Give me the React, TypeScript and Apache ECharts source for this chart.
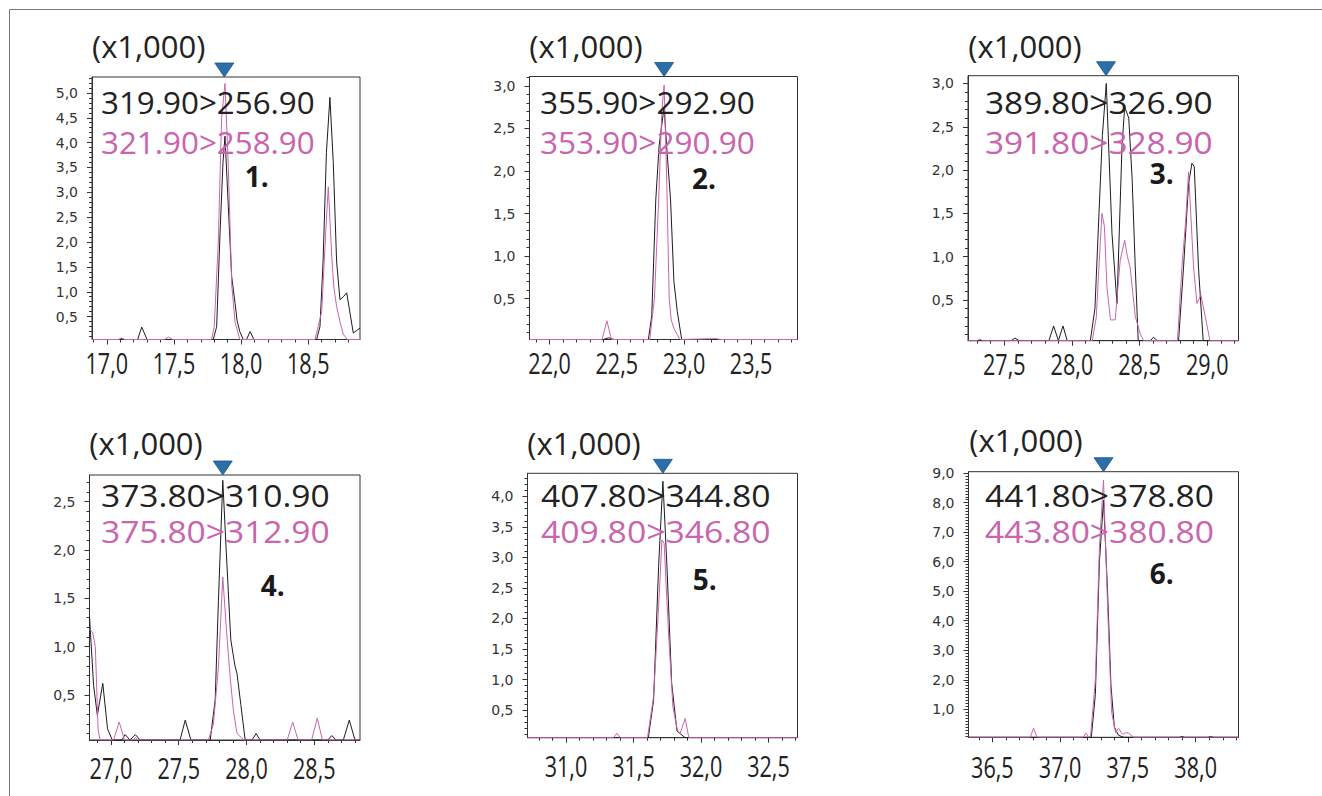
import React, { useEffect, useRef } from "react";
import * as echarts from "echarts";

// ---------- data ----------
const xRanges: number[][] = [
  [16.89, 18.885],
  [21.85, 23.845],
  [27.232, 29.231],
  [26.842, 28.837],
  [30.715, 32.715],
  [36.324, 38.316],
];
const yRanges: number[][] = [
  [0.04, 5.32],
  [0.02, 3.11],
  [0.03, 3.09],
  [0.034, 2.775],
  [0.046, 4.38],
  [0.05, 9.05],
];
const xTickValues: number[][] = [
  [17.0, 17.5, 18.0, 18.5],
  [22.0, 22.5, 23.0, 23.5],
  [27.5, 28.0, 28.5, 29.0],
  [27.0, 27.5, 28.0, 28.5],
  [31.0, 31.5, 32.0, 32.5],
  [36.5, 37.0, 37.5, 38.0],
];
const yTickValues: number[][] = [
  [0.5, 1.0, 1.5, 2.0, 2.5, 3.0, 3.5, 4.0, 4.5, 5.0],
  [0.5, 1.0, 1.5, 2.0, 2.5, 3.0],
  [0.5, 1.0, 1.5, 2.0, 2.5, 3.0],
  [0.5, 1.0, 1.5, 2.0, 2.5],
  [0.5, 1.0, 1.5, 2.0, 2.5, 3.0, 3.5, 4.0],
  [1.0, 2.0, 3.0, 4.0, 5.0, 6.0, 7.0, 8.0, 9.0],
];
const yMinorStep = [0.1, 0.1, 0.1, 0.1, 0.1, 0.1];
const retentionTimes = [17.875, 22.852, 28.252, 27.825, 31.718, 37.32];
const scaleLabel = "(x1,000)";
const transitionsBlack = ["319.90>256.90", "355.90>292.90", "389.80>326.90", "373.80>310.90", "407.80>344.80", "441.80>378.80"];
const transitionsPink = ["321.90>258.90", "353.90>290.90", "391.80>328.90", "375.80>312.90", "409.80>346.80", "443.80>380.80"];
const compoundLabels = ["1.", "2.", "3.", "4.", "5.", "6."];

// chromatogram traces: [retention time (min), intensity (x1,000)]
const p1Black = [[16.89,0.04],[17.09,0.04],[17.11,0.06],[17.13,0.04],[17.23,0.04],[17.26,0.29],[17.30,0.04],[17.793,0.04],[17.818,0.3],[17.843,2.17],[17.865,3.6],[17.88,4.13],[17.905,2.7],[17.93,1.3],[17.955,0.77],[17.97,0.42],[17.99,0.2],[18.016,0.04],[18.04,0.04],[18.067,0.2],[18.095,0.04],[18.562,0.04],[18.587,0.3],[18.61,1.6],[18.635,3.8],[18.661,4.91],[18.686,3.6],[18.711,1.6],[18.736,0.84],[18.761,0.9],[18.786,0.98],[18.835,0.17],[18.885,0.27]];
const p1Pink = [[16.89,0.04],[17.09,0.04],[17.11,0.07],[17.13,0.04],[17.43,0.04],[17.46,0.09],[17.49,0.04],[17.78,0.04],[17.80,0.3],[17.83,2.0],[17.855,4.5],[17.88,5.19],[17.905,3.5],[17.93,1.14],[17.955,0.39],[17.99,0.04],[18.55,0.04],[18.60,0.6],[18.63,2.2],[18.649,3.11],[18.675,1.7],[18.69,1.1],[18.711,0.7],[18.74,0.35],[18.76,0.15],[18.79,0.04],[18.885,0.04]];
const p2Black = [[21.85,0.02],[22.40,0.02],[22.44,0.04],[22.48,0.02],[22.735,0.02],[22.76,0.3],[22.79,1.66],[22.815,2.3],[22.852,2.75],[22.875,2.2],[22.90,1.66],[22.925,0.7],[22.95,0.35],[22.983,0.02],[23.845,0.02]];
const p2Pink = [[21.85,0.02],[22.39,0.02],[22.426,0.24],[22.46,0.02],[22.745,0.02],[22.78,0.5],[22.81,1.6],[22.835,2.7],[22.852,3.01],[22.87,2.0],[22.89,0.5],[22.905,0.25],[22.925,0.15],[22.97,0.02],[23.24,0.03],[23.27,0.02],[23.845,0.02]];
const p3Black = [[27.232,0.03],[27.55,0.03],[27.58,0.06],[27.61,0.03],[27.83,0.03],[27.865,0.2],[27.90,0.03],[27.934,0.2],[27.965,0.03],[28.136,0.03],[28.17,0.4],[28.20,1.5],[28.225,2.4],[28.254,3.0],[28.296,1.27],[28.333,0.46],[28.37,2.27],[28.39,2.73],[28.42,2.6],[28.445,1.9],[28.468,0.88],[28.49,0.03],[28.58,0.03],[28.603,0.07],[28.63,0.03],[28.788,0.03],[28.825,0.88],[28.862,1.84],[28.887,2.08],[28.904,2.04],[28.935,0.88],[28.97,0.03],[29.231,0.03]];
const p3Pink = [[27.232,0.03],[27.30,0.03],[27.32,0.05],[27.34,0.03],[28.15,0.03],[28.18,0.3],[28.20,0.9],[28.222,1.5],[28.24,1.35],[28.259,0.64],[28.285,0.27],[28.32,0.27],[28.357,0.96],[28.39,1.19],[28.41,1.0],[28.43,0.88],[28.468,0.31],[28.505,0.11],[28.53,0.03],[28.78,0.03],[28.813,0.88],[28.84,1.4],[28.862,1.98],[28.899,0.88],[28.924,0.46],[28.953,0.56],[28.985,0.31],[29.02,0.03],[29.231,0.03]];
const p4Black = [[26.842,1.31],[26.872,0.6],[26.90,0.29],[26.94,0.62],[26.975,0.15],[27.01,0.034],[27.08,0.034],[27.105,0.09],[27.14,0.034],[27.18,0.09],[27.215,0.034],[27.51,0.034],[27.548,0.24],[27.59,0.034],[27.732,0.034],[27.769,0.45],[27.793,1.48],[27.825,2.72],[27.85,2.0],[27.884,1.07],[27.915,0.8],[27.93,0.72],[27.958,0.4],[27.99,0.034],[28.04,0.034],[28.071,0.1],[28.10,0.034],[28.60,0.034],[28.629,0.08],[28.66,0.034],[28.714,0.034],[28.758,0.24],[28.80,0.034],[28.837,0.034]];
const p4Pink = [[26.842,1.18],[26.865,1.15],[26.885,1.0],[26.905,0.15],[26.92,0.034],[27.02,0.034],[27.061,0.22],[27.10,0.034],[27.165,0.034],[27.18,0.06],[27.20,0.034],[27.719,0.034],[27.756,0.2],[27.793,0.79],[27.825,1.72],[27.85,1.21],[27.879,0.69],[27.903,0.34],[27.93,0.1],[27.98,0.034],[28.30,0.034],[28.341,0.22],[28.38,0.034],[28.48,0.034],[28.522,0.26],[28.56,0.034],[28.837,0.034]];
const p5Black = [[30.715,0.046],[31.61,0.046],[31.649,0.66],[31.686,2.85],[31.718,4.25],[31.748,2.85],[31.783,0.94],[31.822,0.16],[31.841,0.12],[31.883,0.046],[32.715,0.046]];
const p5Pink = [[30.715,0.046],[31.352,0.046],[31.377,0.12],[31.402,0.046],[31.604,0.046],[31.649,0.72],[31.686,2.18],[31.711,3.29],[31.727,3.23],[31.76,1.75],[31.792,0.55],[31.826,0.16],[31.846,0.12],[31.883,0.36],[31.91,0.046],[32.715,0.046]];
const p6Black = [[36.324,0.05],[37.23,0.05],[37.26,1.5],[37.29,6.0],[37.32,8.09],[37.35,5.0],[37.375,1.8],[37.40,0.4],[37.43,0.12],[37.47,0.05],[37.88,0.05],[37.90,0.08],[37.92,0.05],[38.09,0.05],[38.11,0.08],[38.13,0.05],[38.316,0.05]];
const p6Pink = [[36.324,0.05],[36.78,0.05],[36.804,0.36],[36.83,0.05],[37.17,0.05],[37.19,0.19],[37.21,0.05],[37.225,0.1],[37.26,2.0],[37.29,6.5],[37.32,8.77],[37.35,4.5],[37.38,0.9],[37.41,0.2],[37.43,0.36],[37.46,0.15],[37.48,0.2],[37.505,0.2],[37.54,0.05],[38.316,0.05]];

const blackTraces = [p1Black, p2Black, p3Black, p4Black, p5Black, p6Black];
const pinkTraces = [p1Pink, p2Pink, p3Pink, p4Pink, p5Pink, p6Pink];

// ---------- layout (pixels) ----------
const grids = [
  { left: 92, top: 77, width: 268, height: 262.5 },
  { left: 529.5, top: 76.5, width: 268, height: 263 },
  { left: 968, top: 75.7, width: 270.5, height: 265 },
  { left: 89.5, top: 475, width: 270.5, height: 265 },
  { left: 527.5, top: 473.3, width: 270, height: 264.4 },
  { left: 968.5, top: 471.7, width: 270, height: 265.6 },
];
const xLabelDrop = [23, 23, 23, 28, 28, 29];
const scalePos = [[92, 46], [529.3, 46], [968.3, 46], [89.3, 443], [527.3, 442.5], [969.3, 440]];
const transPos = [[101, 102, 141.7], [540, 102, 142], [985, 102, 142], [101, 494.7, 530.8], [541, 494.7, 530.5], [985, 494.7, 530.5]];
const transStretch = [1.012, 1.017, 1.078, 1.083, 1.087, 1.084];
const compoundPos = [[256.7, 176], [704, 178], [1161.7, 172.5], [272.8, 584.7], [704.7, 579], [1161.7, 573.3]];

const BLACK = "#1c1c1c";
const PINK = "#c964ad";
const AXIS = "#333333";

function stepTicks(min: number, max: number, step: number): number[] {
  const out: number[] = [];
  let k = Math.ceil(min / step - 1e-9);
  while (k * step <= max + 1e-9) {
    out.push(Math.round(k * step * 1000) / 1000);
    k++;
  }
  return out;
}
const fmt = (v: number) => v.toFixed(1).replace(".", ",");

export default function App() {
  const ref = useRef<HTMLDivElement>(null);
  useEffect(() => {
    document.body.style.margin = "0";
    if (!ref.current) return;
    const chart = echarts.init(ref.current, undefined, { renderer: "svg" });

    const xAxis: any[] = [];
    const yAxis: any[] = [];
    const series: any[] = [];
    const graphic: any[] = [];

    grids.forEach((g, i) => {
      const [xmin, xmax] = xRanges[i];
      const [ymin, ymax] = yRanges[i];
      xAxis.push({
        type: "value", gridIndex: i, min: xmin, max: xmax, position: "bottom",
        axisLine: { show: true, lineStyle: { color: AXIS, width: 1 } },
        axisTick: { show: true, length: 5, customValues: xTickValues[i], lineStyle: { color: AXIS } },
        axisLabel: { show: false },
        splitLine: { show: false },
      });
      xAxis.push({
        type: "value", gridIndex: i, min: xmin, max: xmax, position: "bottom", offset: 0,
        axisLine: { show: false },
        axisTick: { show: true, length: 3, customValues: stepTicks(xmin, xmax, 0.1), lineStyle: { color: AXIS } },
        axisLabel: { show: false },
        splitLine: { show: false },
      });
      yAxis.push({
        type: "value", gridIndex: i, min: ymin, max: ymax, position: "left",
        axisLine: { show: true, lineStyle: { color: AXIS, width: 1 } },
        axisTick: { show: true, length: 5, customValues: yTickValues[i], lineStyle: { color: AXIS } },
        axisLabel: {
          show: true, customValues: yTickValues[i], formatter: fmt, margin: 14,
          fontFamily: "DejaVu Sans", fontSize: 14, color: "#333",
        },
        splitLine: { show: false },
      });
      yAxis.push({
        type: "value", gridIndex: i, min: ymin, max: ymax, position: "left", offset: 0,
        axisLine: { show: false },
        axisTick: { show: true, length: 3, customValues: stepTicks(ymin, ymax, yMinorStep[i]), lineStyle: { color: AXIS } },
        axisLabel: { show: false },
        splitLine: { show: false },
      });
      series.push({
        type: "line", xAxisIndex: 2 * i, yAxisIndex: 2 * i, data: blackTraces[i],
        showSymbol: false, symbol: "none", lineStyle: { color: BLACK, width: 1 }, z: 2,
      });
      series.push({
        type: "line", xAxisIndex: 2 * i, yAxisIndex: 2 * i, data: pinkTraces[i],
        showSymbol: false, symbol: "none", lineStyle: { color: PINK, width: 1 }, z: 3,
      });
      series.push({
        type: "scatter", xAxisIndex: 2 * i, yAxisIndex: 2 * i, data: [[retentionTimes[i], ymax]],
        symbol: "triangle", symbolRotate: 180, symbolSize: [19, 14], symbolOffset: [0, -7],
        clip: false, z: 5, itemStyle: { color: "#2b6ea8", borderColor: "#1d5687", borderWidth: 0.8, opacity: 1 },
        silent: true,
      });

      graphic.push({
        type: "text", x: scalePos[i][0], y: scalePos[i][1],
        style: { text: scaleLabel, fontFamily: "Open Sans", fontSize: 31, lineHeight: 32, fill: "#222", textAlign: "left", textVerticalAlign: "middle" },
      });
      graphic.push({
        type: "text", x: transPos[i][0], y: transPos[i][1], z: 10, scaleX: transStretch[i],
        style: { text: transitionsBlack[i], fontFamily: "Open Sans", fontSize: 31, lineHeight: 31, fill: "#222", textAlign: "left", textVerticalAlign: "middle" },
      });
      graphic.push({
        type: "text", x: transPos[i][0], y: transPos[i][2], z: 10, scaleX: transStretch[i],
        style: { text: transitionsPink[i], fontFamily: "Open Sans", fontSize: 31, lineHeight: 31, fill: PINK, textAlign: "left", textVerticalAlign: "middle" },
      });
      graphic.push({
        type: "text", x: compoundPos[i][0], y: compoundPos[i][1], z: 10,
        style: { text: compoundLabels[i], fontFamily: "Open Sans", fontWeight: "bold", fontSize: 28, lineHeight: 26, fill: "#1a1a1a", textAlign: "center", textVerticalAlign: "middle" },
      });
    });

    graphic.push({ type: "line", shape: { x1: 9.5, y1: 9.5, x2: 1322, y2: 9.5 }, style: { stroke: "#777", lineWidth: 1 } });
    graphic.push({ type: "line", shape: { x1: 9.5, y1: 9.5, x2: 9.5, y2: 796 }, style: { stroke: "#777", lineWidth: 1 } });

    chart.setOption({
      animation: false,
      backgroundColor: "#ffffff",
      grid: grids.map((g) => ({ ...g, show: true, borderColor: AXIS, borderWidth: 1, backgroundColor: "transparent", containLabel: false, outerBoundsMode: "none" })),
      xAxis,
      yAxis,
      series,
      graphic,
    });

    // condensed x-axis tick labels, placed at the axis' own pixel positions
    const xLabels: any[] = [];
    grids.forEach((g, i) => {
      xTickValues[i].forEach((v) => {
        const px = chart.convertToPixel({ xAxisIndex: 2 * i }, v) as number;
        xLabels.push({
          type: "text", x: px, y: g.top + g.height + xLabelDrop[i], scaleX: 0.72,
          style: { text: fmt(v), fontFamily: "Open Sans", fontSize: 30, lineHeight: 30, fill: "#222", textAlign: "center", textVerticalAlign: "middle" },
        });
      });
    });
    chart.setOption({ graphic: [...graphic, ...xLabels] });

    return () => chart.dispose();
  }, []);
  return <div ref={ref} style={{ width: 1322, height: 796, background: "#fff" }} />;
}
